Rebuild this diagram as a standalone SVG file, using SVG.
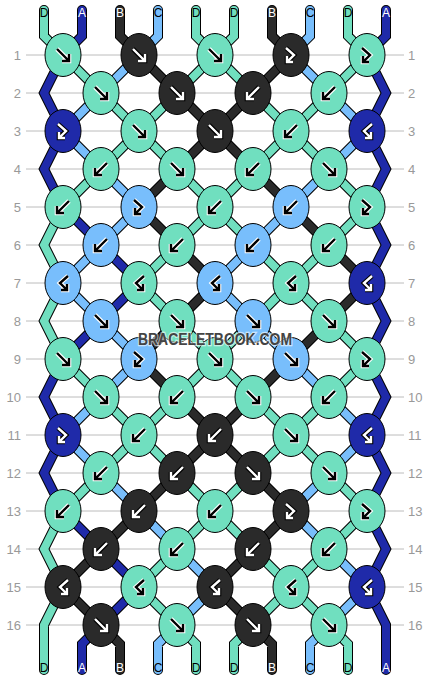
<svg xmlns="http://www.w3.org/2000/svg" width="430" height="680" viewBox="0 0 430 680">
<style>
.grid{stroke:#bcbcbc;stroke-width:1;fill:none}
.rl{font-family:"Liberation Sans",Arial,sans-serif;font-size:13px;fill:#999}
.sl{font-family:"Liberation Sans",Arial,sans-serif;font-size:12px;text-anchor:middle}
.ol{fill:none;stroke:#000;stroke-width:10;stroke-linejoin:miter;stroke-linecap:round}
.cD,.cA,.cB,.cC{fill:none;stroke-width:8;stroke-linejoin:miter;stroke-linecap:round}
.cD{stroke:#70dfbf}.cA{stroke:#1f2aa9}.cB{stroke:#2a2a2a}.cC{stroke:#78befc}
ellipse{stroke:#000;stroke-width:1}
.kD{fill:#70dfbf}.kA{fill:#1f2aa9}.kB{fill:#2a2a2a}.kC{fill:#78befc}
.h{fill:none;stroke:#fff;stroke-width:4.6;stroke-linejoin:miter}
.i{fill:none;stroke:#000;stroke-width:2.4;stroke-linejoin:miter}
.hw{fill:none;stroke:#000;stroke-width:4.6;stroke-linejoin:miter}
.iw{fill:none;stroke:#fff;stroke-width:2.4;stroke-linejoin:miter}
.wm{font-family:"Liberation Sans",Arial,sans-serif;font-size:16px;font-weight:bold;fill:#444;stroke:#fff;stroke-width:2.5;stroke-opacity:0.6;paint-order:stroke;text-anchor:middle}
</style>
<defs>
<path id="sD" d="M44,10V36L63,55 M196,10V36L215,55 M234,10V36L215,55 M348,10V36L367,55 M63,55L101,93 M215,55L177,93 M215,55L253,93 M367,55L329,93 M101,93L139,131 M177,93L139,131 M253,93L291,131 M329,93L291,131 M139,131L101,169 M139,131L177,169 M291,131L253,169 M291,131L329,169 M101,169L63,207 M177,169L215,207 M253,169L215,207 M329,169L367,207 M215,207L177,245 M215,207L253,245 M367,207L329,245 M177,245L139,283 M253,245L291,283 M329,245L291,283 M139,283L177,321 M291,283L253,321 M291,283L329,321 M177,321L215,359 M253,321L215,359 M329,321L367,359 M63,359L101,397 M215,359L177,397 M215,359L253,397 M367,359L329,397 M101,397L139,435 M177,397L139,435 M253,397L291,435 M329,397L291,435 M139,435L101,473 M139,435L177,473 M291,435L253,473 M291,435L329,473 M101,473L63,511 M177,473L215,511 M253,473L215,511 M329,473L367,511 M215,511L177,549 M215,511L253,549 M367,511L329,549 M177,549L139,587 M253,549L291,587 M329,549L291,587 M139,587L177,625 M291,587L253,625 M291,587L329,625 M177,625L196,644V670 M253,625L234,644V670 M329,625L348,644V670 M63,207L44,245L63,283L44,321L63,359 M63,511L44,549L63,587L44,625V670"/>
<path id="sA" d="M82,10V36L63,55 M386,10V36L367,55L386,93L367,131L386,169L367,207L386,245L367,283L386,321L367,359L386,397L367,435L386,473L367,511L386,549L367,587L386,625V670 M63,55L44,93L63,131L44,169L63,207 M63,359L44,397L63,435L44,473L63,511 M63,207L101,245 M101,245L139,283 M139,283L101,321 M101,321L63,359 M63,511L101,549 M101,549L139,587 M139,587L101,625 M101,625L82,644V670"/>
<path id="sB" d="M120,10V36L139,55 M272,10V36L291,55 M139,55L177,93 M291,55L253,93 M177,93L215,131 M253,93L215,131 M215,131L177,169 M215,131L253,169 M177,169L139,207 M253,169L291,207 M139,207L177,245 M291,207L329,245 M177,245L215,283 M329,245L367,283 M215,283L177,321 M367,283L329,321 M177,321L139,359 M329,321L291,359 M139,359L177,397 M291,359L253,397 M177,397L215,435 M253,397L215,435 M215,435L177,473 M215,435L253,473 M177,473L139,511 M253,473L291,511 M139,511L101,549 M291,511L253,549 M101,549L63,587 M253,549L215,587 M63,587L101,625 M215,587L253,625 M101,625L120,644V670 M253,625L272,644V670"/>
<path id="sC" d="M158,10V36L139,55 M310,10V36L291,55 M139,55L101,93 M291,55L329,93 M101,93L63,131 M329,93L367,131 M63,131L101,169 M367,131L329,169 M101,169L139,207 M329,169L291,207 M139,207L101,245 M291,207L253,245 M101,245L63,283 M253,245L215,283 M63,283L101,321 M215,283L253,321 M101,321L139,359 M253,321L291,359 M139,359L101,397 M291,359L329,397 M101,397L63,435 M329,397L367,435 M63,435L101,473 M367,435L329,473 M101,473L139,511 M329,473L291,511 M139,511L177,549 M291,511L329,549 M177,549L215,587 M329,549L367,587 M215,587L177,625 M367,587L329,625 M177,625L158,644V670 M329,625L310,644V670"/>
<g id="af"><path class="h" d="M-6,-6L5,5M6,-1V6H-1"/><path class="i" d="M-6,-6L5,5M6,-1V6H-1"/></g>
<g id="ab"><path class="h" d="M6,-6L-5,5M-6,-1V6H1"/><path class="i" d="M6,-6L-5,5M-6,-1V6H1"/></g>
<g id="afb"><path class="h" d="M-5,-7L3,0L-3.5,6.5M-4,1V7H2"/><path class="i" d="M-5,-7L3,0L-3.5,6.5M-4,1V7H2"/></g>
<g id="abf"><path class="h" d="M5,-7L-3,0L3.5,6.5M4,1V7H-2"/><path class="i" d="M5,-7L-3,0L3.5,6.5M4,1V7H-2"/></g>
<g id="wf"><path class="hw" d="M-6,-6L5,5M6,-1V6H-1"/><path class="iw" d="M-6,-6L5,5M6,-1V6H-1"/></g>
<g id="wb"><path class="hw" d="M6,-6L-5,5M-6,-1V6H1"/><path class="iw" d="M6,-6L-5,5M-6,-1V6H1"/></g>
<g id="wfb"><path class="hw" d="M-5,-7L3,0L-3.5,6.5M-4,1V7H2"/><path class="iw" d="M-5,-7L3,0L-3.5,6.5M-4,1V7H2"/></g>
<g id="wbf"><path class="hw" d="M5,-7L-3,0L3.5,6.5M4,1V7H-2"/><path class="iw" d="M5,-7L-3,0L3.5,6.5M4,1V7H-2"/></g>
</defs>
<rect width="430" height="680" fill="#fff"/>
<g id="rows">
<path class="grid" d="M26,55H404M26,93H404M26,131H404M26,169H404M26,207H404M26,245H404M26,283H404M26,321H404M26,359H404M26,397H404M26,435H404M26,473H404M26,511H404M26,549H404M26,587H404M26,625H404"/>
<g class="rl" text-anchor="end">
<text x="21" y="59.5">1</text><text x="21" y="97.5">2</text><text x="21" y="135.5">3</text><text x="21" y="173.5">4</text><text x="21" y="211.5">5</text><text x="21" y="249.5">6</text><text x="21" y="287.5">7</text><text x="21" y="325.5">8</text><text x="21" y="363.5">9</text><text x="21" y="401.5">10</text><text x="21" y="439.5">11</text><text x="21" y="477.5">12</text><text x="21" y="515.5">13</text><text x="21" y="553.5">14</text><text x="21" y="591.5">15</text><text x="21" y="629.5">16</text>
</g>
<g class="rl" text-anchor="start">
<text x="408" y="59.5">1</text><text x="408" y="97.5">2</text><text x="408" y="135.5">3</text><text x="408" y="173.5">4</text><text x="408" y="211.5">5</text><text x="408" y="249.5">6</text><text x="408" y="287.5">7</text><text x="408" y="325.5">8</text><text x="408" y="363.5">9</text><text x="408" y="401.5">10</text><text x="408" y="439.5">11</text><text x="408" y="477.5">12</text><text x="408" y="515.5">13</text><text x="408" y="553.5">14</text><text x="408" y="591.5">15</text><text x="408" y="629.5">16</text>
</g>
</g>
<g id="connectors">
<use href="#sD" class="ol"/><use href="#sA" class="ol"/><use href="#sB" class="ol"/><use href="#sC" class="ol"/>
<use href="#sD" class="cD"/><use href="#sA" class="cA"/><use href="#sB" class="cB"/><use href="#sC" class="cC"/>
</g>
<g id="string-labels" class="sl">
<text x="44" y="17">D</text><text x="82" y="17" fill="#fff">A</text><text x="120" y="17" fill="#fff">B</text><text x="158" y="17">C</text><text x="196" y="17">D</text><text x="234" y="17">D</text><text x="272" y="17" fill="#fff">B</text><text x="310" y="17">C</text><text x="348" y="17">D</text><text x="386" y="17" fill="#fff">A</text>
<text x="44" y="672">D</text><text x="82" y="672" fill="#fff">A</text><text x="120" y="672" fill="#fff">B</text><text x="158" y="672">C</text><text x="196" y="672">D</text><text x="234" y="672">D</text><text x="272" y="672" fill="#fff">B</text><text x="310" y="672">C</text><text x="348" y="672">D</text><text x="386" y="672" fill="#fff">A</text>
</g>
<g id="knots">
<g id="k1-1"><ellipse cx="63" cy="55" rx="18" ry="21.5" class="kD"/><use href="#af" x="63" y="55"/></g>
<g id="k1-2"><ellipse cx="139" cy="55" rx="18" ry="21.5" class="kB"/><use href="#wf" x="139" y="55"/></g>
<g id="k1-3"><ellipse cx="215" cy="55" rx="18" ry="21.5" class="kD"/><use href="#af" x="215" y="55"/></g>
<g id="k1-4"><ellipse cx="291" cy="55" rx="18" ry="21.5" class="kB"/><use href="#wfb" x="291" y="55"/></g>
<g id="k1-5"><ellipse cx="367" cy="55" rx="18" ry="21.5" class="kD"/><use href="#afb" x="367" y="55"/></g>
<g id="k2-1"><ellipse cx="101" cy="93" rx="18" ry="21.5" class="kD"/><use href="#af" x="101" y="93"/></g>
<g id="k2-2"><ellipse cx="177" cy="93" rx="18" ry="21.5" class="kB"/><use href="#wf" x="177" y="93"/></g>
<g id="k2-3"><ellipse cx="253" cy="93" rx="18" ry="21.5" class="kB"/><use href="#wb" x="253" y="93"/></g>
<g id="k2-4"><ellipse cx="329" cy="93" rx="18" ry="21.5" class="kD"/><use href="#ab" x="329" y="93"/></g>
<g id="k3-1"><ellipse cx="63" cy="131" rx="18" ry="21.5" class="kA"/><use href="#wfb" x="63" y="131"/></g>
<g id="k3-2"><ellipse cx="139" cy="131" rx="18" ry="21.5" class="kD"/><use href="#af" x="139" y="131"/></g>
<g id="k3-3"><ellipse cx="215" cy="131" rx="18" ry="21.5" class="kB"/><use href="#wf" x="215" y="131"/></g>
<g id="k3-4"><ellipse cx="291" cy="131" rx="18" ry="21.5" class="kD"/><use href="#ab" x="291" y="131"/></g>
<g id="k3-5"><ellipse cx="367" cy="131" rx="18" ry="21.5" class="kA"/><use href="#wbf" x="367" y="131"/></g>
<g id="k4-1"><ellipse cx="101" cy="169" rx="18" ry="21.5" class="kD"/><use href="#ab" x="101" y="169"/></g>
<g id="k4-2"><ellipse cx="177" cy="169" rx="18" ry="21.5" class="kD"/><use href="#af" x="177" y="169"/></g>
<g id="k4-3"><ellipse cx="253" cy="169" rx="18" ry="21.5" class="kD"/><use href="#ab" x="253" y="169"/></g>
<g id="k4-4"><ellipse cx="329" cy="169" rx="18" ry="21.5" class="kD"/><use href="#af" x="329" y="169"/></g>
<g id="k5-1"><ellipse cx="63" cy="207" rx="18" ry="21.5" class="kD"/><use href="#ab" x="63" y="207"/></g>
<g id="k5-2"><ellipse cx="139" cy="207" rx="18" ry="21.5" class="kC"/><use href="#afb" x="139" y="207"/></g>
<g id="k5-3"><ellipse cx="215" cy="207" rx="18" ry="21.5" class="kD"/><use href="#ab" x="215" y="207"/></g>
<g id="k5-4"><ellipse cx="291" cy="207" rx="18" ry="21.5" class="kC"/><use href="#ab" x="291" y="207"/></g>
<g id="k5-5"><ellipse cx="367" cy="207" rx="18" ry="21.5" class="kD"/><use href="#afb" x="367" y="207"/></g>
<g id="k6-1"><ellipse cx="101" cy="245" rx="18" ry="21.5" class="kC"/><use href="#ab" x="101" y="245"/></g>
<g id="k6-2"><ellipse cx="177" cy="245" rx="18" ry="21.5" class="kD"/><use href="#ab" x="177" y="245"/></g>
<g id="k6-3"><ellipse cx="253" cy="245" rx="18" ry="21.5" class="kC"/><use href="#ab" x="253" y="245"/></g>
<g id="k6-4"><ellipse cx="329" cy="245" rx="18" ry="21.5" class="kD"/><use href="#ab" x="329" y="245"/></g>
<g id="k7-1"><ellipse cx="63" cy="283" rx="18" ry="21.5" class="kC"/><use href="#abf" x="63" y="283"/></g>
<g id="k7-2"><ellipse cx="139" cy="283" rx="18" ry="21.5" class="kD"/><use href="#abf" x="139" y="283"/></g>
<g id="k7-3"><ellipse cx="215" cy="283" rx="18" ry="21.5" class="kC"/><use href="#abf" x="215" y="283"/></g>
<g id="k7-4"><ellipse cx="291" cy="283" rx="18" ry="21.5" class="kD"/><use href="#abf" x="291" y="283"/></g>
<g id="k7-5"><ellipse cx="367" cy="283" rx="18" ry="21.5" class="kA"/><use href="#wbf" x="367" y="283"/></g>
<g id="k8-1"><ellipse cx="101" cy="321" rx="18" ry="21.5" class="kC"/><use href="#af" x="101" y="321"/></g>
<g id="k8-2"><ellipse cx="177" cy="321" rx="18" ry="21.5" class="kD"/><use href="#af" x="177" y="321"/></g>
<g id="k8-3"><ellipse cx="253" cy="321" rx="18" ry="21.5" class="kC"/><use href="#af" x="253" y="321"/></g>
<g id="k8-4"><ellipse cx="329" cy="321" rx="18" ry="21.5" class="kD"/><use href="#af" x="329" y="321"/></g>
<g id="k9-1"><ellipse cx="63" cy="359" rx="18" ry="21.5" class="kD"/><use href="#af" x="63" y="359"/></g>
<g id="k9-2"><ellipse cx="139" cy="359" rx="18" ry="21.5" class="kC"/><use href="#afb" x="139" y="359"/></g>
<g id="k9-3"><ellipse cx="215" cy="359" rx="18" ry="21.5" class="kD"/><use href="#af" x="215" y="359"/></g>
<g id="k9-4"><ellipse cx="291" cy="359" rx="18" ry="21.5" class="kC"/><use href="#af" x="291" y="359"/></g>
<g id="k9-5"><ellipse cx="367" cy="359" rx="18" ry="21.5" class="kD"/><use href="#afb" x="367" y="359"/></g>
<g id="k10-1"><ellipse cx="101" cy="397" rx="18" ry="21.5" class="kD"/><use href="#af" x="101" y="397"/></g>
<g id="k10-2"><ellipse cx="177" cy="397" rx="18" ry="21.5" class="kD"/><use href="#ab" x="177" y="397"/></g>
<g id="k10-3"><ellipse cx="253" cy="397" rx="18" ry="21.5" class="kD"/><use href="#af" x="253" y="397"/></g>
<g id="k10-4"><ellipse cx="329" cy="397" rx="18" ry="21.5" class="kD"/><use href="#ab" x="329" y="397"/></g>
<g id="k11-1"><ellipse cx="63" cy="435" rx="18" ry="21.5" class="kA"/><use href="#wfb" x="63" y="435"/></g>
<g id="k11-2"><ellipse cx="139" cy="435" rx="18" ry="21.5" class="kD"/><use href="#ab" x="139" y="435"/></g>
<g id="k11-3"><ellipse cx="215" cy="435" rx="18" ry="21.5" class="kB"/><use href="#wb" x="215" y="435"/></g>
<g id="k11-4"><ellipse cx="291" cy="435" rx="18" ry="21.5" class="kD"/><use href="#af" x="291" y="435"/></g>
<g id="k11-5"><ellipse cx="367" cy="435" rx="18" ry="21.5" class="kA"/><use href="#wbf" x="367" y="435"/></g>
<g id="k12-1"><ellipse cx="101" cy="473" rx="18" ry="21.5" class="kD"/><use href="#ab" x="101" y="473"/></g>
<g id="k12-2"><ellipse cx="177" cy="473" rx="18" ry="21.5" class="kB"/><use href="#wb" x="177" y="473"/></g>
<g id="k12-3"><ellipse cx="253" cy="473" rx="18" ry="21.5" class="kB"/><use href="#wf" x="253" y="473"/></g>
<g id="k12-4"><ellipse cx="329" cy="473" rx="18" ry="21.5" class="kD"/><use href="#af" x="329" y="473"/></g>
<g id="k13-1"><ellipse cx="63" cy="511" rx="18" ry="21.5" class="kD"/><use href="#ab" x="63" y="511"/></g>
<g id="k13-2"><ellipse cx="139" cy="511" rx="18" ry="21.5" class="kB"/><use href="#wb" x="139" y="511"/></g>
<g id="k13-3"><ellipse cx="215" cy="511" rx="18" ry="21.5" class="kD"/><use href="#ab" x="215" y="511"/></g>
<g id="k13-4"><ellipse cx="291" cy="511" rx="18" ry="21.5" class="kB"/><use href="#wfb" x="291" y="511"/></g>
<g id="k13-5"><ellipse cx="367" cy="511" rx="18" ry="21.5" class="kD"/><use href="#afb" x="367" y="511"/></g>
<g id="k14-1"><ellipse cx="101" cy="549" rx="18" ry="21.5" class="kB"/><use href="#wb" x="101" y="549"/></g>
<g id="k14-2"><ellipse cx="177" cy="549" rx="18" ry="21.5" class="kD"/><use href="#ab" x="177" y="549"/></g>
<g id="k14-3"><ellipse cx="253" cy="549" rx="18" ry="21.5" class="kB"/><use href="#wb" x="253" y="549"/></g>
<g id="k14-4"><ellipse cx="329" cy="549" rx="18" ry="21.5" class="kD"/><use href="#ab" x="329" y="549"/></g>
<g id="k15-1"><ellipse cx="63" cy="587" rx="18" ry="21.5" class="kB"/><use href="#wbf" x="63" y="587"/></g>
<g id="k15-2"><ellipse cx="139" cy="587" rx="18" ry="21.5" class="kD"/><use href="#abf" x="139" y="587"/></g>
<g id="k15-3"><ellipse cx="215" cy="587" rx="18" ry="21.5" class="kB"/><use href="#wbf" x="215" y="587"/></g>
<g id="k15-4"><ellipse cx="291" cy="587" rx="18" ry="21.5" class="kD"/><use href="#abf" x="291" y="587"/></g>
<g id="k15-5"><ellipse cx="367" cy="587" rx="18" ry="21.5" class="kA"/><use href="#wbf" x="367" y="587"/></g>
<g id="k16-1"><ellipse cx="101" cy="625" rx="18" ry="21.5" class="kB"/><use href="#wf" x="101" y="625"/></g>
<g id="k16-2"><ellipse cx="177" cy="625" rx="18" ry="21.5" class="kD"/><use href="#af" x="177" y="625"/></g>
<g id="k16-3"><ellipse cx="253" cy="625" rx="18" ry="21.5" class="kB"/><use href="#wf" x="253" y="625"/></g>
<g id="k16-4"><ellipse cx="329" cy="625" rx="18" ry="21.5" class="kD"/><use href="#af" x="329" y="625"/></g>
</g>
<text class="wm" x="215" y="345" textLength="154" lengthAdjust="spacingAndGlyphs">BRACELETBOOK.COM</text>
</svg>
